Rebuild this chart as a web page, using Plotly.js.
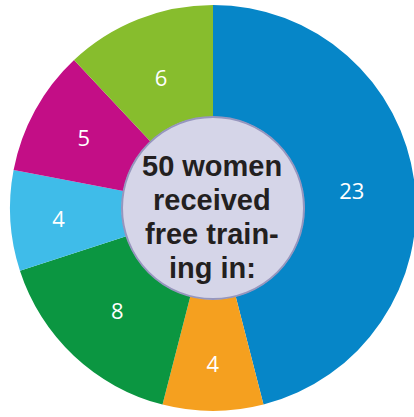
<!DOCTYPE html>
<html>
<head>
<meta charset="utf-8">
<script src="https://cdn.plot.ly/plotly-3.0.1.min.js"></script>
<style>html,body{margin:0;padding:0;overflow:hidden;background:#fff;}#chart{width:420px;height:417px;}</style>
</head>
<body>
<div id="chart"></div>
<script>
const categories = ["A", "B", "C", "D", "E", "F"];
const values = [23, 4, 8, 4, 5, 6];
const colors = ["#0686c8", "#f5a01f", "#0b9641", "#3fbce9", "#c30e86", "#87bd2d"];
const centerLines = ["50 women", "received", "free train-", "ing in:"];

const W = 420, H = 417;
const cx = 213, cy = 208, R = 203, r = 91, RL = 193;

function dom(rad) {
  return {x: [(cx - rad) / W, (cx + rad) / W], y: [(H - cy - rad) / H, (H - cy + rad) / H]};
}

const pie = {
  type: "pie",
  labels: categories,
  values: values,
  sort: false,
  direction: "clockwise",
  rotation: 0,
  hole: 0.45,
  marker: {colors: colors, line: {width: 0}},
  textinfo: "none",
  hoverinfo: "none",
  domain: dom(R)
};

const labelPie = {
  type: "pie",
  labels: categories,
  values: values,
  sort: false,
  direction: "clockwise",
  rotation: 0,
  hole: 0.45,
  marker: {colors: categories.map(() => "rgba(0,0,0,0)"), line: {width: 0}},
  texttemplate: "%{value}",
  textposition: "inside",
  insidetextorientation: "horizontal",
  textfont: {family: "Open Sans", size: 22, color: "#ffffff"},
  hoverinfo: "none",
  domain: dom(RL)
};

const lineY = [166, 200, 234, 268];

const layout = {
  width: W, height: H,
  margin: {l: 0, r: 0, t: 0, b: 0},
  showlegend: false,
  paper_bgcolor: "#ffffff",
  shapes: [{
    type: "circle", xref: "paper", yref: "paper", layer: "above",
    x0: (cx - r) / W, x1: (cx + r) / W,
    y0: (H - cy - r) / H, y1: (H - cy + r) / H,
    fillcolor: "#d5d5e8", line: {color: "#9696be", width: 2}
  }],
  annotations: centerLines.map((t, i) => ({
    xref: "paper", yref: "paper", x: (cx - 1) / W, y: (H - lineY[i]) / H,
    xanchor: "center", yanchor: "middle", showarrow: false,
    text: t,
    font: {family: "Liberation Sans", size: 29, color: "#231f20", weight: "bold"}
  }))
};

Plotly.newPlot("chart", [pie, labelPie], layout, {displayModeBar: false, staticPlot: true});
</script>
</body>
</html>
